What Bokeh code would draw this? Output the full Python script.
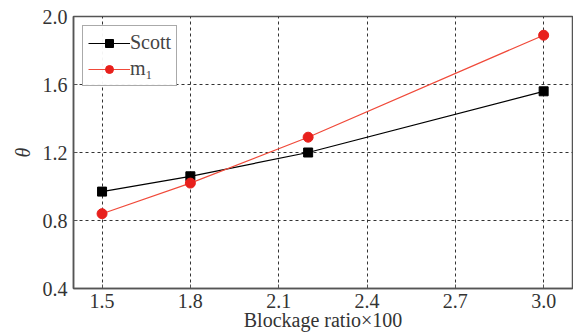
from bokeh.plotting import figure
from bokeh.models import Range1d, FixedTicker, Legend, LegendItem, CustomJSTickFormatter
from bokeh.embed import file_html
from bokeh.resources import INLINE

blockage = [1.5, 1.8, 2.2, 3.0]
scott = [0.97, 1.06, 1.20, 1.56]
m1 = [0.84, 1.02, 1.29, 1.89]
x_ticks = [1.5, 1.8, 2.1, 2.4, 2.7, 3.0]
y_ticks = [0.4, 0.8, 1.2, 1.6, 2.0]

FONT = "Liberation Serif"

p = figure(width=573, height=336, output_backend="svg", toolbar_location=None,
           x_range=Range1d(1.403, 3.098), y_range=Range1d(0.4, 2.0),
           min_border_left=73, min_border_right=1, min_border_top=16, min_border_bottom=48)

p.outline_line_color = "#555555"
p.outline_line_width = 1.5

p.axis.axis_line_color = "#555555"
p.axis.axis_line_width = 1.5
p.axis.major_tick_line_color = "#555555"
p.axis.major_tick_in = 4
p.axis.major_tick_out = 0
p.axis.minor_tick_line_color = None
p.axis.major_label_text_font = FONT
p.axis.major_label_text_font_size = "20px"
p.axis.major_label_text_color = "#333333"
p.axis.axis_label_text_font = FONT
p.axis.axis_label_text_font_size = "20px"
p.axis.axis_label_text_color = "#333333"
p.axis.axis_label_text_font_style = "normal"

p.xaxis.ticker = FixedTicker(ticks=x_ticks)
p.yaxis.ticker = FixedTicker(ticks=y_ticks)
p.yaxis.formatter = CustomJSTickFormatter(code="return tick.toFixed(1);")
p.xaxis.formatter = CustomJSTickFormatter(code="return tick.toFixed(1);")
p.xaxis.axis_label = "Blockage ratio×100"
p.xaxis.axis_label_standoff = -2
p.xaxis.major_label_standoff = 5
p.yaxis.axis_label = "θ"
p.yaxis.axis_label_text_font_style = "italic"
p.yaxis.axis_label_standoff = 6
p.yaxis.major_label_standoff = 6

p.grid.grid_line_color = "#333333"
p.grid.grid_line_dash = "3 3"
p.grid.grid_line_width = 1

l1 = p.line(blockage, scott, line_color="black", line_width=1.2)
s1 = p.scatter(blockage, scott, marker="square", size=9, fill_color="black", line_color="black")
l2 = p.line(blockage, m1, line_color="#f04a3a", line_width=1.2)
s2 = p.scatter(blockage, m1, marker="circle", size=10, fill_color="#e8201c", line_color="#e8201c")

legend = Legend(items=[LegendItem(label="Scott", renderers=[l1, s1]),
                       LegendItem(label="m₁", renderers=[l2, s2])],
                location="top_left")
legend.label_text_font = FONT
legend.label_text_font_size = "20px"
legend.border_line_color = "#555555"
legend.border_line_width = 1.2
legend.glyph_width = 42
legend.glyph_height = 20
legend.label_standoff = 0
legend.label_height = 20
legend.spacing = 3
legend.padding = 5
legend.margin = 9
p.add_layout(legend)

open("out.html", "w").write(file_html(p, INLINE))
